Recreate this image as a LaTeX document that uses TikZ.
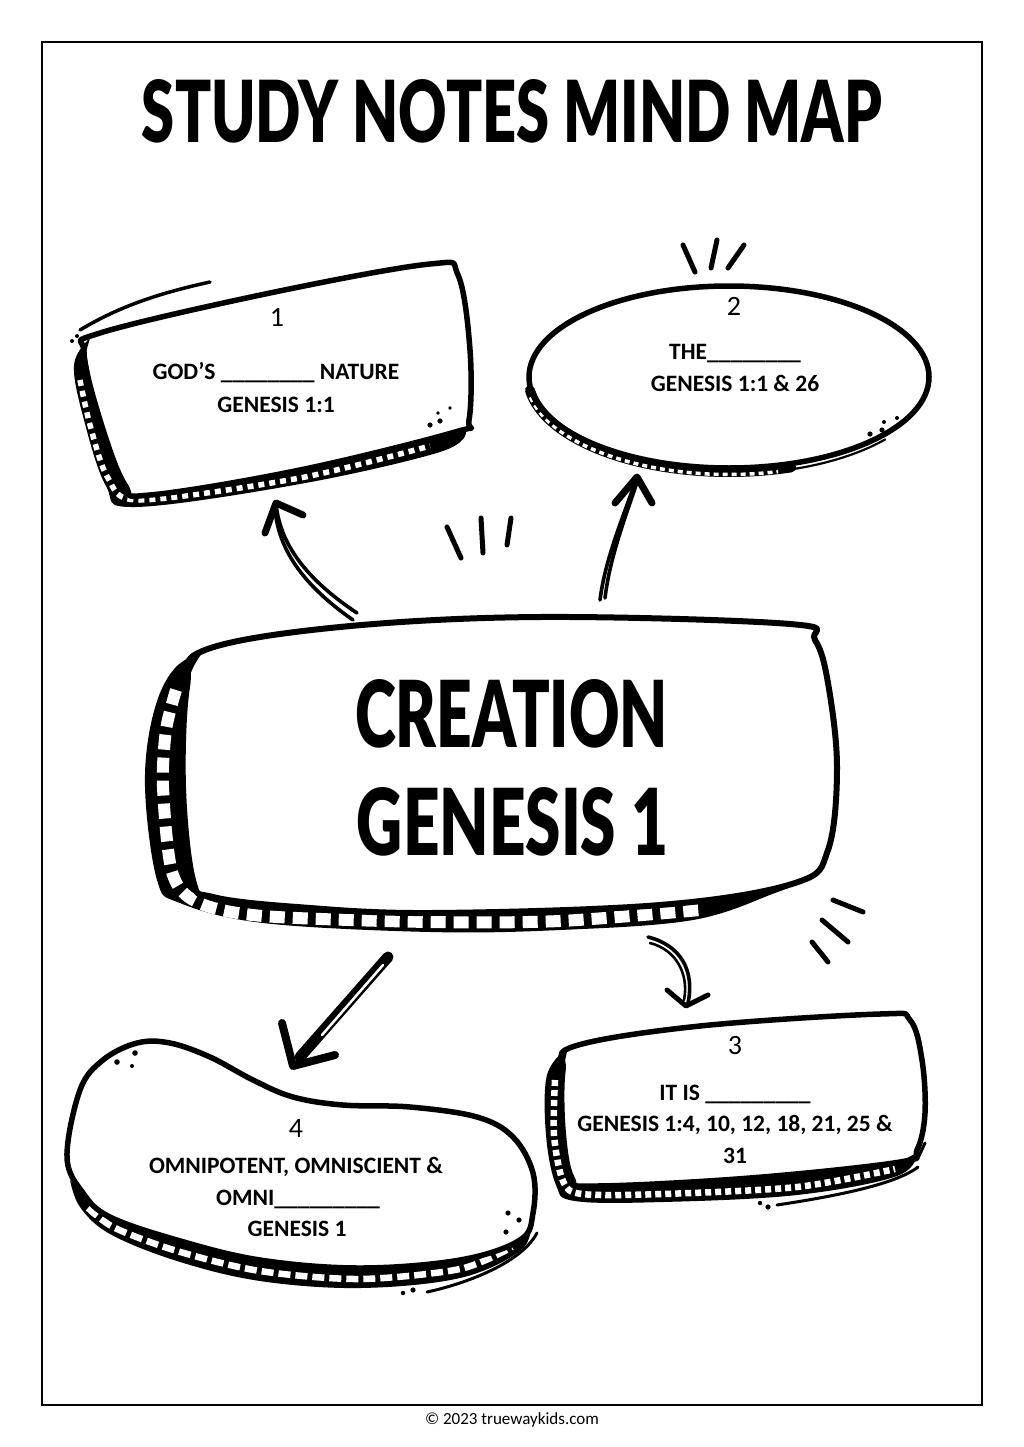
\documentclass[tikz,border=0pt]{standalone}
\usepackage{fontspec}
\usepackage{graphicx}
\setmainfont{Carlito}
\newfontfamily\heavyfont{Lato Black}
\newcommand\bigfont{\heavyfont\fontsize{60}{60}\selectfont}
\begin{document}
\begin{tikzpicture}[x=1pt,y=-1pt,
 outl/.style={line width=5.5pt,line join=round,line cap=round},
 fineline/.style={line width=2.6pt,line cap=round,line join=round},
 shaft/.style={line width=3.6pt,line cap=round},
 chev/.style={line width=7pt,line cap=round,line join=round},
 spark/.style={line width=5pt,line cap=round},
 lbl/.style={font=\fontsize{23.5}{28}\selectfont\bfseries,anchor=base,inner sep=0pt},
 num/.style={font=\fontsize{28}{32}\selectfont,anchor=base,inner sep=0pt}]

\useasboundingbox (0,0) rectangle (1024,1447);
\draw[line width=1.8pt] (42,42) rectangle (982,1405);

% title
\node[inner sep=0pt] (title) at (512,111.5) {\resizebox{740pt}{63pt}{\bigfont STUDY NOTES MIND MAP}};

% ---------------- box 1 ----------------
\fill plot[smooth,tension=0.6] coordinates {(90,338) (74,365) (84,420) (106,486) (135,507) (300,484) (440,452) (466,432)}
  -- plot[smooth,tension=0.6] coordinates {(455,432) (300,470) (150,495) (125,485) (100,420) (86,352)} -- cycle;
\draw[white,line width=5.5pt,dash pattern=on 6pt off 5pt] plot[smooth] coordinates {(80,380) (90,425) (108,478) (140,500) (300,478) (430,446)};
\draw[outl] plot[smooth cycle,tension=0.6] coordinates {(100,333) (270,293) (430,264) (458,275) (470,350) (469,420) (455,432) (300,470) (150,495) (125,485) (100,420) (84,352)};
\draw[fineline,line width=3.5pt] (80,330) .. controls (120,306) and (160,293) .. (210,282);
\fill (72,341) circle (2) (77,336) circle (2);
\fill (430,425) circle (2.6) (440,421) circle (2.6) (438,413) circle (1.8) (450,408) circle (1.8);

% ---------------- box 2 ----------------
\draw[line width=10pt,line cap=round] (729,377) ++(172:201 and 95) arc[start angle=172,end angle=72,x radius=201,y radius=95];
\draw[white,line width=3.5pt,dash pattern=on 5pt off 4pt] (729,377) ++(168:203 and 97.5) arc[start angle=168,end angle=76,x radius=203,y radius=97.5];
\draw[outl] (729,377) ellipse [x radius=200,y radius=91];
\draw[fineline,line width=2.2pt] (729,377) ++(74:204 and 97) arc[start angle=74,end angle=40,x radius=204,y radius=97];
\fill (870,434) circle (2.6) (882,430) circle (2.6) (884,422) circle (2) (897,418) circle (2);
\draw[spark] (683,245) -- (695,272);
\draw[spark] (717,240) -- (711,268);
\draw[spark] (744,245) -- (728,268);

% ---------------- centre box ----------------
\fill plot[smooth,tension=0.6] coordinates {(215,645) (175,668) (153,715) (145,787) (157,880) (180,903) (263,923) (430,932) (560,930) (693,920) (775,893) (805,880)}
  -- plot[smooth,tension=0.6] coordinates {(795,883) (660,905) (430,913) (297,907) (213,897) (193,880) (183,787) (187,687) (205,650)} -- cycle;
\draw[white,line width=12pt,dash pattern=on 15pt off 8pt] plot[smooth] coordinates {(176,690) (166,730) (163,787) (172,872) (197,902) (263,916) (430,922) (560,921) (700,910)};
\draw[outl,line width=6pt] plot[smooth cycle,tension=0.6] coordinates {(205,650) (340,627) (540,617) (790,624) (815,640) (828,683) (837,767) (828,850) (795,883) (660,905) (430,913) (297,907) (213,897) (193,880) (183,787) (187,687)};
\node[inner sep=0pt] (c1) at (511.5,714) {\resizebox{313pt}{68pt}{\bigfont CREATION}};
\node[inner sep=0pt] (c2) at (512.5,821.5) {\resizebox{311pt}{68pt}{\bigfont GENESIS 1}};
\draw[spark] (447,527) -- (461,558);
\draw[spark] (481,518) -- (483,553);
\draw[spark] (511,518) -- (507,545);
\draw[spark] (833,900) -- (863,912);
\draw[spark] (822,920) -- (848,942);
\draw[spark] (812,942) -- (828,962);

% ---------------- box 3 ----------------
\fill plot[smooth,tension=0.6] coordinates {(568,1047) (547,1075) (546,1135) (556,1185) (575,1201) (663,1202) (797,1195) (897,1176) (918,1152)}
  -- plot[smooth,tension=0.6] coordinates {(900,1162) (750,1178) (595,1186) (572,1178) (563,1130) (563,1070)} -- cycle;
\draw[white,line width=6.5pt,dash pattern=on 6pt off 4pt] plot[smooth] coordinates {(555,1080) (554,1135) (563,1181) (582,1194) (663,1194) (797,1187) (895,1169)};
\draw[outl] plot[smooth cycle,tension=0.6] coordinates {(575,1046) (700,1026) (880,1014) (910,1020) (922,1060) (925,1113) (917,1150) (900,1162) (750,1178) (595,1186) (572,1178) (563,1130) (563,1070)};
\draw[fineline,line width=3pt] (777,1205) .. controls (830,1197) and (895,1185) .. (918,1167);
\draw[fineline,line width=3pt] (919,1156) -- (925,1143);
\fill (760,1203) circle (2.2) (768,1207) circle (2.6);

% ---------------- box 4 ----------------
\fill plot[smooth,tension=0.6] coordinates {(70,1180) (80,1207) (110,1234) (177,1261) (260,1281) (360,1288) (460,1278) (520,1251) (531,1226)}
  -- plot[smooth,tension=0.6] coordinates {(520,1240) (460,1260) (360,1268) (260,1260) (177,1240) (110,1217) (83,1193)} -- cycle;
\draw[white,line width=6.5pt,dash pattern=on 12pt off 5pt] plot[smooth] coordinates {(88,1208) (115,1228) (177,1251) (260,1271) (360,1279) (460,1269) (512,1247)};
\draw[outl] plot[smooth cycle,tension=0.6] coordinates {(67,1157) (80,1090) (103,1060) (137,1043) (170,1043) (210,1057) (253,1080) (293,1097) (343,1105) (410,1107) (477,1117) (513,1137) (533,1173) (533,1213) (520,1240) (460,1260) (360,1268) (260,1260) (177,1240) (110,1217) (83,1193)};
\draw[fineline,line width=3pt] (427,1292) .. controls (460,1285) and (520,1265) .. (537,1233);
\fill (403,1293) circle (2.2) (413,1290) circle (2.6);
\fill (117,1062) circle (2.8) (135,1053) circle (2.8) (132,1066) circle (2);
\fill (508,1213) circle (2.6) (519,1220) circle (2.6) (506,1232) circle (2.6);

% ---------------- arrows ----------------
\coordinate (a1s) at (357,613); \coordinate (a1t) at (276,503);
\draw[shaft] (a1s) .. controls (315,585) and (280,550) .. (a1t);
\draw[shaft] (353,620) .. controls (310,590) and (278,554) .. (275,508);
\draw[chev] (265,533) -- (a1t) -- (303,515);

\coordinate (a2s) at (600,600); \coordinate (a2t) at (637,477);
\draw[shaft] (a2s) .. controls (605,560) and (622,520) .. (a2t);
\draw[shaft] (605,598) .. controls (610,556) and (626,516) .. (637,482);
\draw[chev] (615,503) -- (a2t) -- (652,503);

\coordinate (a3s) at (648,937); \coordinate (a3t) at (686,1006);
\draw[shaft] (a3s) .. controls (680,945) and (695,970) .. (688,1003);
\draw[shaft,line width=2.6pt] (650,943) .. controls (677,950) and (689,975) .. (684,1000);
\draw[chev,line width=5pt] (667,990) -- (a3t) -- (708,995);

\coordinate (a4s) at (388,957); \coordinate (a4t) at (293,1066);
\draw[line width=11pt,line cap=round] (a4s) -- (300,1057);
\draw[white,line width=2.5pt,line cap=round] (383,965) -- (322,1035);
\draw[chev,line width=8pt] (282,1023) -- (a4t) -- (335,1055);

% ---------------- texts ----------------
\node[num] (n1) at (277,326) {1};
\node[lbl] (t1a) at (276,379) {GOD’S \_\_\_\_\_\_\_\_ NATURE};
\node[lbl] (t1b) at (276,412) {GENESIS 1:1};

\node[num] (n2) at (734,315) {2};
\node[lbl] (t2a) at (735,359) {THE\_\_\_\_\_\_\_\_};
\node[lbl] (t2b) at (735,391) {GENESIS 1:1 \& 26};

\node[num] (n3) at (735,1054) {3};
\node[lbl] (t3a) at (735,1100) {IT IS \_\_\_\_\_\_\_\_\_};
\node[lbl] (t3b) at (735,1131) {GENESIS 1:4, 10, 12, 18, 21, 25 \&};
\node[lbl] (t3c) at (735,1163) {31};

\node[num] (n4) at (296,1137) {4};
\node[lbl] (t4a) at (296,1173) {OMNIPOTENT, OMNISCIENT \&};
\node[lbl] (t4b) at (298,1205) {OMNI\_\_\_\_\_\_\_\_\_};
\node[lbl] (t4c) at (297,1236) {GENESIS 1};

\node[inner sep=0pt,anchor=base,font=\fontsize{17}{20}\selectfont] (foot) at (512,1424) {© 2023 truewaykids.com};
\end{tikzpicture}
\end{document}
